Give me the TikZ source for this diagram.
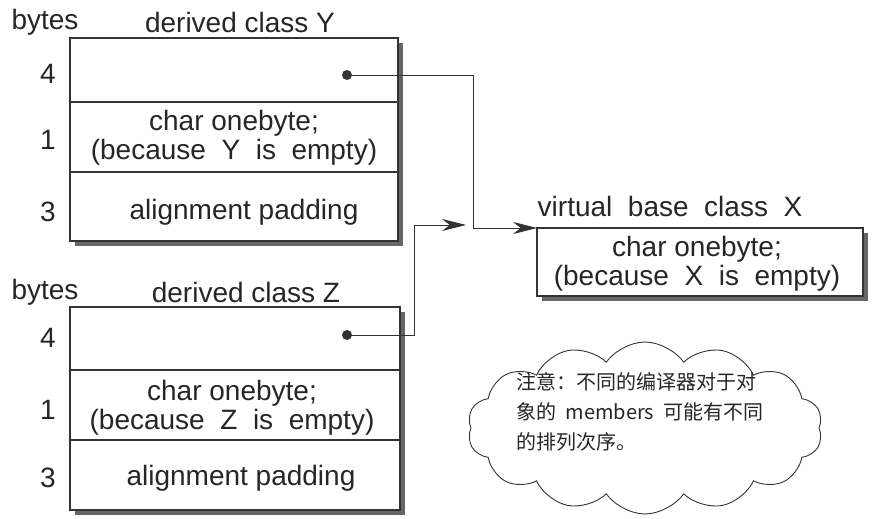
\documentclass[tikz,border=0pt]{standalone}
\usepackage{fontspec}
\setmainfont{Liberation Sans}
\newfontfamily\cjk{Noto Sans CJK SC}
\usetikzlibrary{shapes.symbols,arrows.meta}
\begin{document}
\begin{tikzpicture}[x=1pt,y=-1pt,
  lbl/.style={font=\fontsize{28}{29}\selectfont,text=black!85,inner sep=0pt},
  boxln/.style={draw=black!80,line width=1.2pt},
  shad/.style={fill=black!60},
  conn/.style={draw=black!80,line width=0.8pt},
  tip/.style={-{Stealth[length=24pt,width=12pt]}}]
\useasboundingbox (0,0) rectangle (889,519);
\fill[white] (0,0) rectangle (889,519);
% Box Y
\fill[shad] (75,43) rectangle (403,246);
\filldraw[boxln,fill=white] (70,38) rectangle (398,241);
\draw[boxln] (70,102) -- (398,102) (70,172) -- (398,172);
\node[lbl] (by) at (45,22) {bytes};
\node[lbl] (ty) at (240,22) {derived class Y};
\node[lbl] at (48,74) {4};
\node[lbl] at (48,140) {1};
\node[lbl] at (48,212) {3};
\node[lbl,align=center] at (234,138) {char onebyte;\\(because\ \ Y\ \ is\ \ empty)};
\node[lbl] at (244,212) {alignment padding};
\fill[black!80] (347,75) circle (5);
\coordinate (dy) at (347,75);
% Box X
\fill[shad] (542,233) rectangle (868,301);
\filldraw[boxln,fill=white] (537,228) rectangle (863,296);
\node[lbl] (tx) at (670,206) {virtual\ \ base\ \ class\ \ X};
\node[lbl,align=center] at (697,264) {char onebyte;\\(because\ \ X\ \ is\ \ empty)};
\coordinate (xin) at (537,228);
% Box Z
\fill[shad] (75,312) rectangle (405,515);
\filldraw[boxln,fill=white] (70,307) rectangle (400,510);
\draw[boxln] (70,370) -- (400,370) (70,440) -- (400,440);
\node[lbl] (bz) at (45,292) {bytes};
\node[lbl] (tz) at (246,292) {derived class Z};
\node[lbl] at (48,338) {4};
\node[lbl] at (48,410) {1};
\node[lbl] at (48,478) {3};
\node[lbl,align=center] at (232,408) {char onebyte;\\(because\ \ Z\ \ is\ \ empty)};
\node[lbl] at (241,478) {alignment padding};
\fill[black!80] (347,335) circle (5);
\coordinate (dz) at (347,335);
\coordinate (za) at (466,225);
% connectors
\draw[conn,tip] (dy) -- (473,75) -- (473,228) -- (xin);
\draw[conn,tip] (dz) -- (414,335) -- (414,225) -- (za);
% cloud
\node[cloud,cloud puffs=14,cloud puff arc=110,aspect=2.2,draw=black!80,line width=0.9pt,
  minimum width=355pt,minimum height=172pt,inner sep=0pt] (cl) at (645,428) {};
\node[font=\cjk\fontsize{20}{30}\selectfont,align=left,text=black!85] (ct) at (640,412)
 {注意：不同的编译器对于对\\象的\ \ members\ \ 可能有不同\\的排列次序。};
\end{tikzpicture}
\end{document}
